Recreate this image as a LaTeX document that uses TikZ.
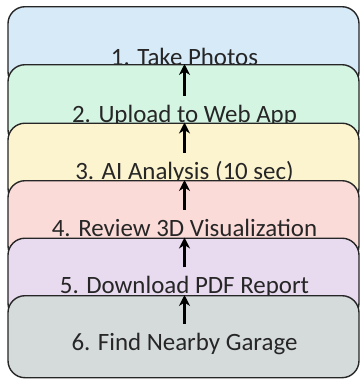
\documentclass[tikz,border=0pt]{standalone}
\usepackage{fontspec}
\setmainfont{Carlito}
\usepackage{tikz}
\usetikzlibrary{arrows.meta}
\definecolor{stepblue}{HTML}{D6EAF8}
\definecolor{stepgreen}{HTML}{D5F5E3}
\definecolor{stepyellow}{HTML}{FCF3CF}
\definecolor{steppink}{HTML}{FADBD8}
\definecolor{steplilac}{HTML}{E8DAEF}
\definecolor{stepgrey}{HTML}{D5DBDB}
\tikzset{
  % --- step panels -----------------------------------------------------------
  panel/.style={rectangle,draw=black!85,line width=1.4bp,rounded corners=17bp,
                minimum width=351bp,minimum height=82bp,anchor=north,
                inner sep=0pt},
  steplab/.style={anchor=base,font=\fontsize{25}{30}\selectfont,
                  text=black!85,text height=16bp,text depth=5bp,
                  inner xsep=2bp,inner ysep=10bp},
  % --- flow arrows -----------------------------------------------------------
  flow/.style={-{Stealth[length=11bp,width=11bp]},line width=2.4bp,black},
}

\begin{document}
\begin{tikzpicture}[x=1bp, y=-1bp]
  \useasboundingbox (0,0) rectangle (360,379);
  % --- 1: photos -----------------------------------------------------------
  \node[panel,fill=stepblue]   (p1) at (183.5,6)   {};
  \node[steplab]               (l1) at (184.5,65.5) {1. Take Photos};
  % --- 2: upload -----------------------------------------------------------
  \node[panel,fill=stepgreen]  (p2) at (183.5,64)  {};
  \node[steplab]               (l2) at (184.5,122) {2. Upload to Web App};
  \draw[flow] (l2.north) -- (l2.north |- p2.north);
  % --- 3: analysis ---------------------------------------------------------
  \node[panel,fill=stepyellow] (p3) at (183.5,122.5) {};
  \node[steplab]               (l3) at (184.5,179) {3. AI Analysis (10 sec)};
  \draw[flow] (l3.north) -- (l3.north |- p3.north);
  % --- 4: review -----------------------------------------------------------
  \node[panel,fill=steppink]   (p4) at (183.5,180) {};
  \node[steplab]               (l4) at (184.5,236) {4. Review 3D Visualization};
  \draw[flow] (l4.north) -- (l4.north |- p4.north);
  % --- 5: report -----------------------------------------------------------
  \node[panel,fill=steplilac]  (p5) at (183.5,237.5) {};
  \node[steplab]               (l5) at (184.5,293.5) {5. Download PDF Report};
  \draw[flow] (l5.north) -- (l5.north |- p5.north);
  % --- 6: garage -----------------------------------------------------------
  \node[panel,fill=stepgrey]   (p6) at (183.5,295) {};
  \node[steplab]               (l6) at (184.5,350) {6. Find Nearby Garage};
  \draw[flow] (l6.north) -- (l6.north |- p6.north);
\end{tikzpicture}
\end{document}
